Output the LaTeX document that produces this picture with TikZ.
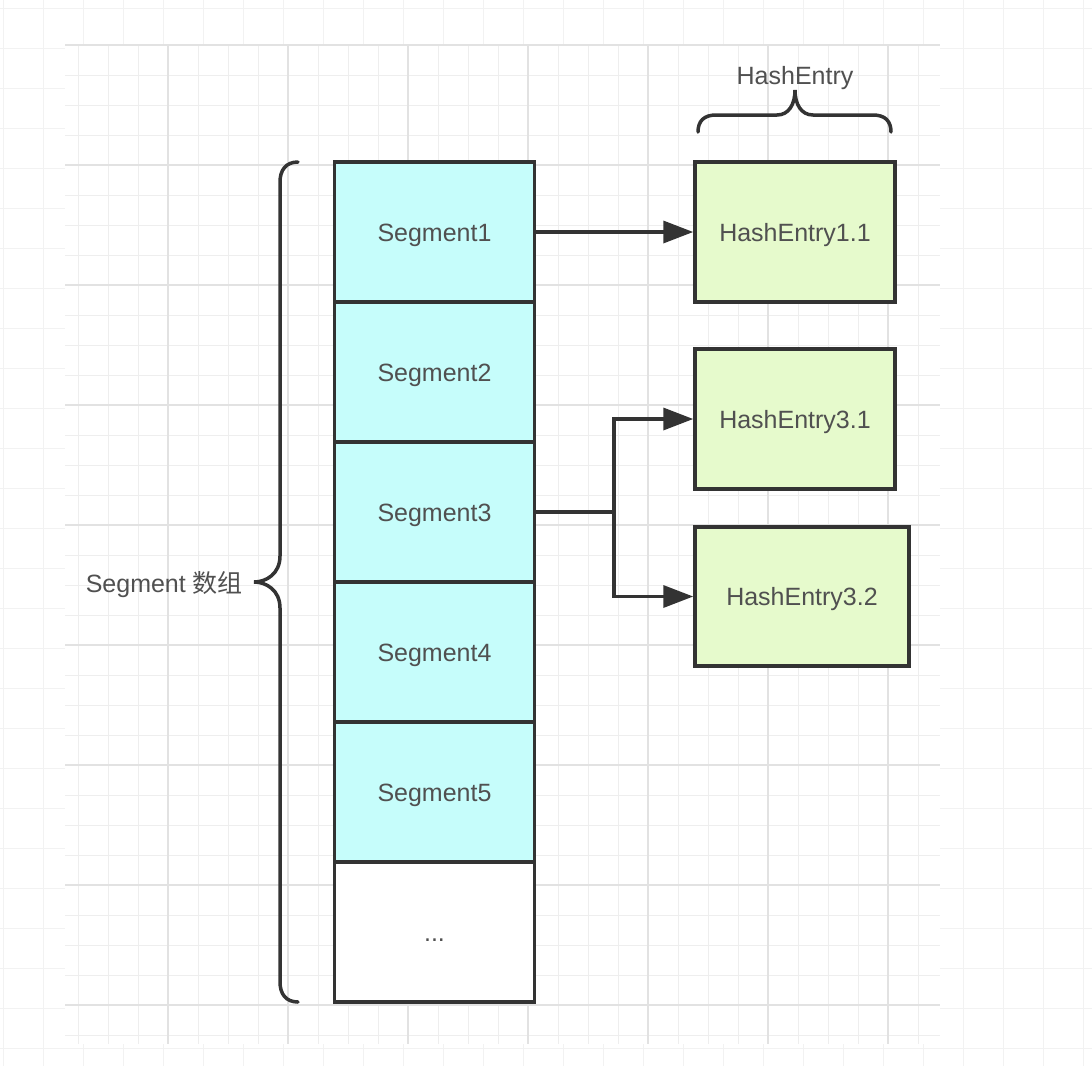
\documentclass[tikz,border=0pt]{standalone}
\usepackage{fontspec}
\setmainfont{Liberation Sans}
\newfontfamily\cjkfont{Noto Sans CJK SC}
\usetikzlibrary{arrows.meta}
\definecolor{segfill}{RGB}{198,253,251}
\definecolor{hefill}{RGB}{230,250,204}
\definecolor{linec}{RGB}{51,51,51}
\definecolor{textc}{RGB}{80,80,80}
\definecolor{outergrid}{RGB}{242,242,242}
\definecolor{minorgrid}{RGB}{238,238,238}
\definecolor{majorgrid}{RGB}{226,226,226}
\begin{document}
\begin{tikzpicture}[x=1pt,y=-1pt,
  txt/.style={text=textc, font=\fontsize{25}{30}\selectfont, inner sep=0pt, text height=18pt, text depth=0pt},
  seg/.style={txt, draw=linec, line width=3.5pt, fill=segfill, minimum width=200pt, minimum height=140pt},
  hebox/.style={txt, draw=linec, line width=3.5pt, fill=hefill, minimum height=140pt},
  conn/.style={draw=linec, line width=3.5pt, -{Triangle[length=30pt,width=22pt]}},
  bracec/.style={draw=linec, line width=3.5pt, line cap=round}]
\useasboundingbox (0,0) rectangle (1092,1066);
\fill[white] (0,0) rectangle (1092,1066);
% outer grid
\foreach \x in {3,43,...,1083} \draw[outergrid, line width=1pt] (\x,0) -- (\x,1066);
\foreach \y in {8,48,...,1048} \draw[outergrid, line width=1pt] (0,\y) -- (1092,\y);
% inner grid panel
\fill[white] (65,44) rectangle (940,1044);
\begin{scope}
\clip (65,44) rectangle (940,1044);
\foreach \x in {78,108,...,930} \draw[minorgrid, line width=1pt] (\x,44) -- (\x,1044);
\foreach \y in {75,105,...,1040} \draw[minorgrid, line width=1pt] (65,\y) -- (940,\y);
\foreach \x in {168,288,...,930} \draw[majorgrid, line width=1.5pt] (\x,44) -- (\x,1044);
\foreach \y in {45,165,...,1040} \draw[majorgrid, line width=1.5pt] (65,\y) -- (940,\y);
\end{scope}
% segments
\node[seg] (s1) at (434.5,232) {Segment1};
\node[seg] (s2) at (434.5,372) {Segment2};
\node[seg] (s3) at (434.5,512) {Segment3};
\node[seg] (s4) at (434.5,652) {Segment4};
\node[seg] (s5) at (434.5,792) {Segment5};
\node[seg, fill=white] (s6) at (434.5,932) {...};
% hash entries
\node[hebox, minimum width=200pt] (h11) at (795,232) {HashEntry1.1};
\node[hebox, minimum width=200pt] (h31) at (795,419) {HashEntry3.1};
\node[hebox, minimum width=214pt, minimum height=139pt] (h32) at (802,596.5) {HashEntry3.2};
% connectors
\coordinate (j) at (614,512);
\draw[conn] (s1.east) -- (h11.west);
\draw[draw=linec, line width=3.5pt] (s3.east) -- (j);
\draw[conn] (j) |- (h31.west);
\draw[conn] (j) |- (h32.west);
% left brace
\draw[bracec] (298,162) .. controls (286,162) and (280,170) .. (280,182)
  -- (280,556) .. controls (280,574) and (266,582) .. (254,582)
  .. controls (266,582) and (280,590) .. (280,608)
  -- (280,982) .. controls (280,994) and (286,1002) .. (298,1002);
\node[txt, anchor=east] (lblseg) at (243,583) {Segment {\cjkfont 数组}};
% top brace
\draw[bracec] (698,132) .. controls (698,121) and (704,115) .. (716,115)
  -- (777,115) .. controls (789,115) and (795,104) .. (795,90)
  .. controls (795,104) and (801,115) .. (813,115)
  -- (873,115) .. controls (885,115) and (891,121) .. (891,132);
\node[txt] (lblhe) at (795,75) {HashEntry};
\end{tikzpicture}
\end{document}
